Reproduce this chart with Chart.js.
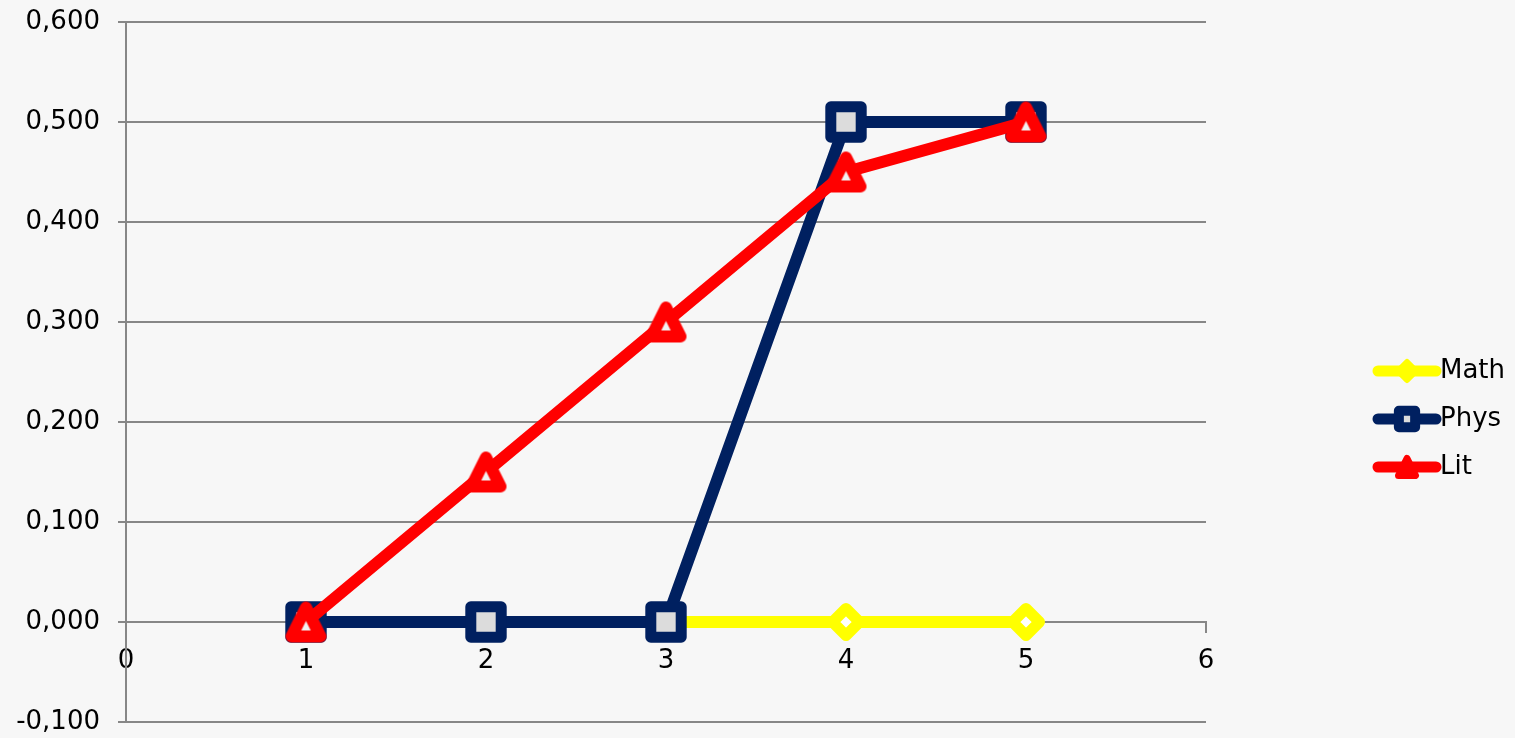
<!DOCTYPE html>
<html>
<head>
    <title>Math / Phys / Lit</title>
    <script src="https://cdn.jsdelivr.net/npm/chart.js"></script>
    <style>
        html, body {
            margin: 0;
            padding: 0;
            background: #f7f7f7;
        }
        #chart {
            display: block;
        }
    </style>
</head>
<body>
    <canvas id="chart" width="1515" height="738"></canvas>
    <script>
        // Values
        const xValues = [1, 2, 3, 4, 5];
        const seriesNames = ['Math', 'Phys', 'Lit'];
        const mathValues = [0, 0, 0, 0, 0];
        const physValues = [0, 0, 0, 0.5, 0.5];
        const litValues = [0, 0.15, 0.3, 0.45, 0.5];

        const xMin = 0, xMax = 6, xStep = 1;
        const yMin = -0.1, yMax = 0.6, yStep = 0.1;

        const gridColor = '#878787';
        const fontFamily = '"DejaVu Sans", Verdana, sans-serif';

        function toPoints(ys) {
            return xValues.map((x, i) => ({ x: x, y: ys[i] }));
        }

        // Excel-style number format: 3 decimals, comma separator
        function formatY(v) {
            const s = Math.abs(v) < 1e-9 ? '0.000' : v.toFixed(3);
            return s.replace('.', ',');
        }

        // Excel's triangle marker is centred on its box, not its centroid,
        // so build it as a small image
        function makeTriangle(size, lw, stroke, fill) {
            const c = document.createElement('canvas');
            c.width = size;
            c.height = size;
            const g = c.getContext('2d');
            const m = lw / 2 + 1;
            g.lineJoin = 'round';
            g.lineWidth = lw;
            g.strokeStyle = stroke;
            g.fillStyle = fill;
            g.beginPath();
            g.moveTo(size / 2, m);
            g.lineTo(size - m, size - m);
            g.lineTo(m, size - m);
            g.closePath();
            g.fill();
            g.stroke();
            return c;
        }

        const litMarker = makeTriangle(43, 12, '#ff0000', '#f2f2f2');
        const litLegendMarker = makeTriangle(26, 7, '#ff0000', '#ff0000');

        // round corners on markers like the original
        const roundJoin = {
            id: 'roundJoin',
            beforeDatasetsDraw(chart) {
                chart.ctx.lineJoin = 'round';
            }
        };

        // legend: line with marker, then the name
        const sideLegend = {
            id: 'sideLegend',
            afterDraw(chart) {
                const ctx = chart.ctx;
                const x0 = 1378, x1 = 1436, top = 371, gap = 48;
                chart.data.datasets.forEach((ds, i) => {
                    const y = top + i * gap;
                    const xc = (x0 + x1) / 2;
                    ctx.save();
                    ctx.strokeStyle = ds.borderColor;
                    ctx.lineWidth = 11;
                    ctx.lineCap = 'round';
                    ctx.beginPath();
                    ctx.moveTo(x0, y);
                    ctx.lineTo(x1, y);
                    ctx.stroke();
                    if (ds.legendImage) {
                        const im = ds.legendImage;
                        ctx.drawImage(im, xc - im.width / 2, y - im.height / 2);
                    } else {
                        ctx.lineJoin = 'round';
                        ctx.fillStyle = ds.legendFill;
                        ctx.strokeStyle = ds.borderColor;
                        ctx.lineWidth = ds.legendBorder;
                        Chart.helpers.drawPoint(ctx, {
                            pointStyle: ds.pointStyle,
                            radius: ds.legendRadius,
                            rotation: 0,
                            borderWidth: ds.legendBorder
                        }, xc, y);
                    }
                    ctx.fillStyle = '#000';
                    ctx.font = '26px ' + fontFamily;
                    ctx.textBaseline = 'middle';
                    ctx.textAlign = 'left';
                    ctx.fillText(ds.label, x1 + 4, y);
                    ctx.restore();
                });
            }
        };

        new Chart(document.getElementById('chart'), {
            type: 'scatter',
            data: {
                datasets: [
                    {
                        label: seriesNames[0],
                        data: toPoints(mathValues),
                        showLine: true,
                        borderColor: '#ffff00',
                        borderWidth: 12,
                        pointStyle: 'rectRot',
                        pointRadius: 13.5,
                        pointBorderWidth: 11,
                        pointBackgroundColor: '#ffffff',
                        pointBorderColor: '#ffff00',
                        legendFill: '#ffff00',
                        legendRadius: 9,
                        legendBorder: 6,
                        order: 3
                    },
                    {
                        label: seriesNames[1],
                        data: toPoints(physValues),
                        showLine: true,
                        borderColor: '#002060',
                        borderWidth: 12,
                        pointStyle: 'rect',
                        pointRadius: 21.5,
                        pointBorderWidth: 11,
                        pointBackgroundColor: '#dcdcdc',
                        pointBorderColor: '#002060',
                        legendFill: '#dcdcdc',
                        legendRadius: 11.5,
                        legendBorder: 10,
                        order: 2
                    },
                    {
                        label: seriesNames[2],
                        data: toPoints(litValues),
                        showLine: true,
                        borderColor: '#ff0000',
                        borderWidth: 12,
                        pointStyle: litMarker,
                        legendImage: litLegendMarker,
                        order: 1
                    }
                ]
            },
            options: {
                responsive: false,
                animation: false,
                elements: {
                    line: { tension: 0, borderJoinStyle: 'round', borderCapStyle: 'round' }
                },
                layout: {
                    autoPadding: false,
                    padding: { top: 22, bottom: 16, left: 0, right: 309 }
                },
                plugins: {
                    legend: { display: false },
                    tooltip: { enabled: false }
                },
                scales: {
                    x: {
                        type: 'linear',
                        position: { y: 0 },
                        min: xMin,
                        max: xMax,
                        grid: {
                            drawOnChartArea: false,
                            color: gridColor,
                            lineWidth: 2,
                            tickLength: 10
                        },
                        border: { color: gridColor, width: 2 },
                        ticks: {
                            stepSize: xStep,
                            autoSkip: false,
                            maxRotation: 0,
                            padding: 14,
                            color: '#000',
                            font: { family: fontFamily, size: 26 }
                        }
                    },
                    y: {
                        min: yMin,
                        max: yMax,
                        afterFit(scale) {
                            scale.width = 126;
                            scale.paddingTop = 0;
                            scale.paddingBottom = 0;
                        },
                        grid: {
                            color: gridColor,
                            lineWidth: 2,
                            tickLength: 8
                        },
                        border: { color: gridColor, width: 2 },
                        ticks: {
                            stepSize: yStep,
                            padding: 18,
                            color: '#000',
                            font: { family: fontFamily, size: 26 },
                            callback: formatY
                        }
                    }
                }
            },
            plugins: [roundJoin, sideLegend]
        });
    </script>
</body>
</html>
